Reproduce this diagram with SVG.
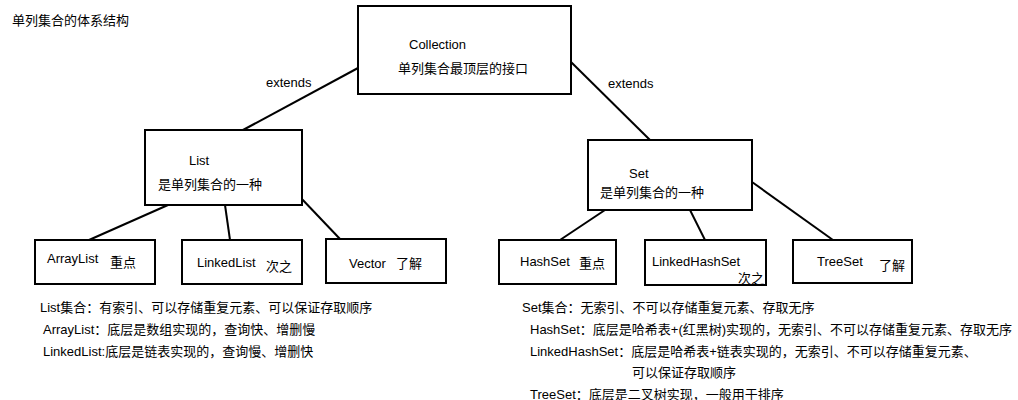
<svg xmlns="http://www.w3.org/2000/svg" width="1018" height="400" viewBox="0 0 1018 400">
<style>
.b{fill:#fff;stroke:#000;stroke-width:2}
.l{stroke:#000;stroke-width:2;fill:none}
text{font-family:"Liberation Sans","Noto Sans CJK SC",sans-serif;font-size:13px;fill:#000}
</style>
<rect width="1018" height="400" fill="#fff"/>
<text x="12" y="25">单列集合的体系结构</text>
<g id="connectors">
<line class="l" x1="358" y1="68" x2="243" y2="130"/>
<line class="l" x1="571" y1="62" x2="650" y2="140"/>
<line class="l" x1="168" y1="205" x2="89" y2="240"/>
<line class="l" x1="225" y1="205" x2="230" y2="240"/>
<line class="l" x1="300" y1="197" x2="340" y2="239"/>
<line class="l" x1="605" y1="210" x2="560" y2="240"/>
<line class="l" x1="690" y1="210" x2="705" y2="240"/>
<line class="l" x1="752" y1="182" x2="833" y2="240"/>
<text x="266" y="87">extends</text>
<text x="608" y="88">extends</text>
</g>
<g id="collection"><rect class="b" x="358" y="6" width="213" height="88"/><text x="409" y="49">Collection</text><text x="398" y="73">单列集合最顶层的接口</text></g>
<g id="list"><rect class="b" x="145" y="130" width="157" height="75"/><text x="189" y="165">List</text><text x="158" y="189">是单列集合的一种</text></g>
<g id="set"><rect class="b" x="588" y="140" width="164" height="70"/><text x="629" y="178">Set</text><text x="600" y="197">是单列集合的一种</text></g>
<g id="arraylist"><rect class="b" x="35" y="240" width="120" height="44"/><text x="47" y="263">ArrayList</text><text x="110" y="267">重点</text></g>
<g id="linkedlist"><rect class="b" x="182" y="240" width="120" height="44"/><text x="197" y="267">LinkedList</text><text x="266" y="271">次之</text></g>
<g id="vector"><rect class="b" x="326" y="239" width="120" height="44"/><text x="349" y="268">Vector</text><text x="396" y="268">了解</text></g>
<g id="hashset"><rect class="b" x="499" y="240" width="117" height="44"/><text x="520" y="266">HashSet</text><text x="579" y="268">重点</text></g>
<g id="linkedhashset"><rect class="b" x="645" y="240" width="121" height="45"/><text x="652" y="266">LinkedHashSet</text><text x="738" y="283">次之</text></g>
<g id="treeset"><rect class="b" x="793" y="240" width="119" height="43"/><text x="817" y="266">TreeSet</text><text x="879" y="270">了解</text></g>
<text x="40" y="312">List集合：有索引、可以存储重复元素、可以保证存取顺序</text>
<text x="43" y="334">ArrayList：底层是数组实现的，查询快、增删慢</text>
<text x="43" y="356">LinkedList:底层是链表实现的，查询慢、增删快</text>
<text x="522" y="312">Set集合：无索引、不可以存储重复元素、存取无序</text>
<text x="530" y="334">HashSet：底层是哈希表+(红黑树)实现的，无索引、不可以存储重复元素、存取无序</text>
<text x="530" y="356">LinkedHashSet：底层是哈希表+链表实现的，无索引、不可以存储重复元素、</text>
<text x="632" y="377">可以保证存取顺序</text>
<text x="530" y="399">TreeSet：底层是二叉树实现，一般用于排序</text>
</svg>
